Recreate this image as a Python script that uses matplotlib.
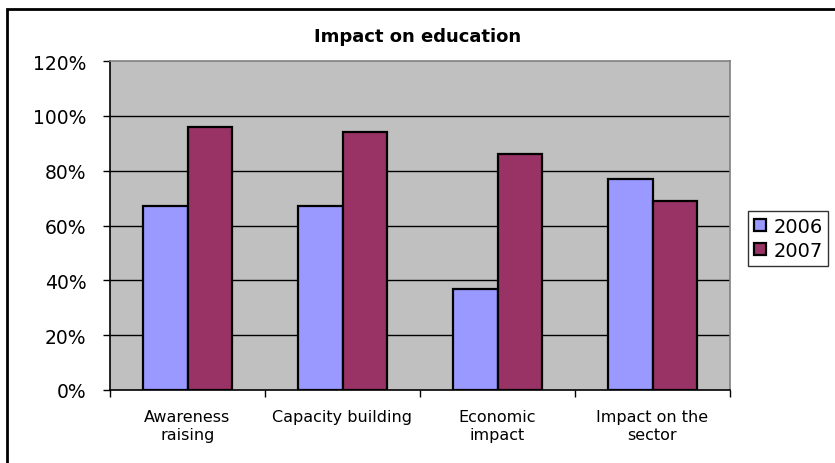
import matplotlib.pyplot as plt
import matplotlib.patches as mpatches
import numpy as np

categories = ["Awareness\nraising", "Capacity building", "Economic\nimpact", "Impact on the\nsector"]
years = ["2006", "2007"]
values_2006 = [67, 67, 37, 77]
values_2007 = [96, 94, 86, 69]
yticks = [0, 20, 40, 60, 80, 100, 120]

colors = ["#9999FF", "#993366"]

fig = plt.figure(figsize=(8.35, 4.64), dpi=100)
ax = fig.add_axes([110 / 835, 1 - 391 / 464, 620 / 835, 329 / 464])
ax.set_facecolor("#C0C0C0")

x = np.arange(len(categories))
w = 0.29
b1 = ax.bar(x - w / 2, values_2006, w, color=colors[0], edgecolor="black", linewidth=1.6, zorder=3, label=years[0])
b2 = ax.bar(x + w / 2, values_2007, w, color=colors[1], edgecolor="black", linewidth=1.6, zorder=3, label=years[1])

ax.set_xlim(-0.5, len(categories) - 0.5)
ax.set_ylim(0, 120)
ax.set_yticks(yticks)
ax.set_yticklabels([f"{v}%" for v in yticks], fontsize=13.5)
for v in yticks[1:-1]:
    ax.axhline(v, color="black", linewidth=1.0, zorder=1)

ax.set_xticks(x)
ax.set_xticklabels(categories, fontsize=11.5, linespacing=1.25)
ax.tick_params(axis="x", length=0, pad=14)
# category boundary ticks
ax.set_xticks(np.arange(len(categories) + 1) - 0.5, minor=True)
ax.tick_params(axis="x", which="minor", length=5, width=1, direction="out")
ax.tick_params(axis="y", length=5, width=1, direction="out", pad=12)

ax.spines["left"].set_color("black")
ax.spines["bottom"].set_color("black")
ax.spines["top"].set_color("#808080")
ax.spines["right"].set_color("#808080")
for s in ax.spines.values():
    s.set_linewidth(1.2)

fig.text(418 / 835, 1 - 37 / 464, "Impact on education", ha="center", va="center",
         fontsize=13, fontweight="bold")

leg = fig.legend(handles=[b1, b2], labels=years, loc="upper left",
                 bbox_to_anchor=(748 / 835, 1 - 212 / 464), fontsize=14,
                 frameon=True, fancybox=False, edgecolor="black", borderaxespad=0,
                 handlelength=0.6, handleheight=0.6, handletextpad=0.4,
                 borderpad=0.3, labelspacing=0.25)
leg.get_frame().set_linewidth(1.0)

# outer chart frame
fig.patches.append(mpatches.Rectangle((7 / 835, -0.1), 1.2, 1.1 - 10 / 464,
                                      transform=fig.transFigure, fill=False,
                                      edgecolor="black", linewidth=2))

fig.savefig("out.png", dpi=100)
